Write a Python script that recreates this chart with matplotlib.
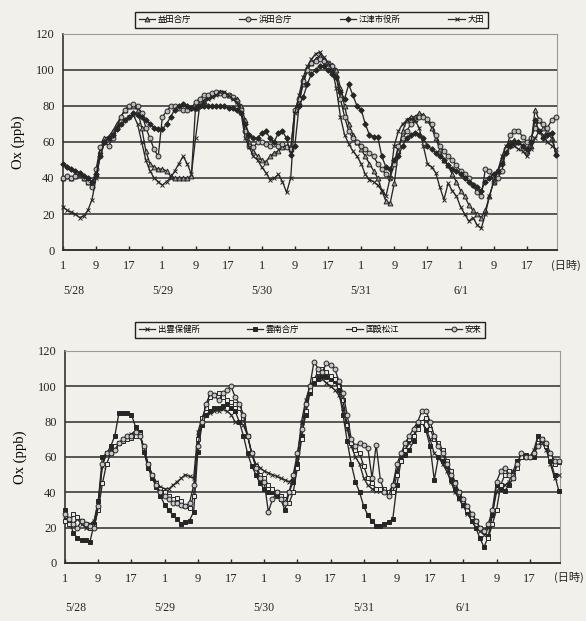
import matplotlib
matplotlib.use("Agg")
import matplotlib.pyplot as plt
from matplotlib.lines import Line2D
import numpy as np

hours = list(range(120))
tick_pos = list(range(0, 120, 8))
tick_labels = ["1", "9", "17"] * 5
date_labels = ["5/28", "5/29", "5/30", "5/31", "6/1"]
date_pos = [2.5, 24, 48, 72, 96]

top_names = ["益田合庁", "浜田合庁", "江津市役所", "大田"]
masuda = [40, 41, 40, 41, 42, 40, 38, 36, 42, 55, 62, 63, 66, 70, 74, 78, 80, 80, 78, 68, 55, 48, 46, 45,
          45, 44, 41, 40, 40, 40, 40, 41, 79, 82, 83, 85, 86, 87, 88, 87, 86, 85, 84, 80, 72, 60, 55, 52,
          50, 49, 52, 54, 55, 57, 58, 56, 78, 82, 92, 100, 104, 106, 108, 106, 104, 103, 100, 90, 80, 70, 64, 60,
          56, 52, 48, 44, 40, 33, 27, 26, 37, 55, 66, 72, 74, 74, 76, 75, 72, 68, 62, 56, 50, 47, 42, 38,
          33, 30, 25, 22, 20, 18, 22, 30, 38, 44, 50, 56, 60, 61, 60, 58, 55, 58, 78, 72, 68, 66, 62, 54]
hamada = [40, 41, 40, 41, 42, 40, 38, 35, 45, 57, 60, 58, 62, 68, 74, 78, 80, 81, 80, 76, 68, 62, 56, 52,
          74, 77, 80, 80, 79, 78, 78, 79, 82, 84, 86, 86, 87, 88, 87, 86, 86, 85, 83, 78, 66, 58, 57, 60,
          60, 59, 58, 59, 58, 59, 57, 56, 78, 84, 94, 100, 104, 105, 106, 105, 104, 102, 96, 84, 74, 66, 62, 60,
          58, 56, 54, 52, 48, 45, 42, 40, 48, 58, 62, 66, 70, 72, 74, 74, 73, 70, 64, 58, 55, 52, 50, 47,
          44, 42, 40, 36, 32, 30, 45, 44, 38, 40, 44, 56, 64, 66, 66, 63, 60, 62, 68, 72, 70, 68, 72, 74]
gotsu = [48, 46, 45, 44, 43, 41, 40, 38, 42, 52, 60, 62, 64, 67, 70, 72, 74, 76, 75, 74, 72, 70, 68, 67,
         67, 70, 74, 78, 80, 81, 80, 79, 79, 80, 80, 80, 80, 80, 80, 80, 79, 79, 78, 76, 70, 64, 62, 62,
         65, 66, 62, 60, 65, 66, 62, 53, 58, 80, 85, 92, 98, 100, 102, 102, 100, 98, 96, 88, 84, 92, 86, 80,
         78, 70, 64, 63, 63, 52, 46, 45, 50, 52, 58, 62, 64, 65, 64, 62, 58, 56, 54, 52, 50, 47, 45, 44,
         42, 40, 38, 36, 35, 33, 38, 40, 42, 44, 48, 54, 58, 60, 60, 58, 56, 60, 72, 66, 62, 64, 65, 53]
oda = [24, 22, 21, 20, 18, 19, 22, 28, 40, 52, 60, 62, 64, 68, 70, 72, 74, 75, 70, 60, 50, 44, 40, 38,
       36, 38, 40, 44, 48, 52, 48, 42, 62, 80, 82, 84, 85, 86, 88, 88, 86, 84, 82, 76, 62, 57, 52, 50,
       46, 43, 39, 40, 42, 38, 32, 40, 76, 86, 96, 102, 106, 109, 110, 107, 104, 100, 90, 74, 64, 59, 55, 52,
       48, 42, 39, 38, 36, 33, 30, 40, 58, 66, 70, 72, 73, 72, 68, 58, 48, 46, 43, 35, 28, 37, 33, 30,
       24, 20, 16, 18, 14, 12, 20, 30, 38, 44, 52, 58, 60, 58, 56, 55, 52, 56, 62, 66, 64, 60, 58, 56]

bot_names = ["出雲保健所", "雲南合庁", "国設松江", "安来"]
izumo = [25, 23, 22, 25, 22, 20, 22, 24, 35, 55, 62, 64, 66, 68, 70, 72, 73, 75, 74, 64, 55, 50, 46, 43,
         42, 42, 44, 46, 48, 50, 49, 48, 74, 82, 84, 85, 86, 86, 87, 86, 84, 80, 80, 78, 72, 62, 56, 54,
         52, 51, 50, 49, 48, 47, 46, 48, 60, 80, 92, 100, 104, 106, 104, 102, 100, 98, 95, 88, 76, 66, 60, 56,
         48, 44, 42, 41, 41, 40, 40, 44, 52, 60, 64, 68, 72, 78, 80, 76, 70, 62, 60, 56, 52, 46, 40, 36,
         32, 28, 24, 20, 18, 16, 20, 28, 40, 44, 44, 46, 52, 58, 60, 60, 60, 64, 72, 68, 64, 56, 48, 50]
unnan = [30, 24, 17, 14, 13, 13, 12, 22, 35, 60, 62, 66, 72, 85, 85, 85, 84, 77, 74, 63, 54, 48, 43, 38,
         33, 30, 27, 25, 22, 23, 24, 29, 63, 78, 84, 86, 88, 88, 89, 90, 88, 86, 80, 72, 62, 55, 50, 45,
         42, 40, 40, 38, 36, 30, 40, 46, 56, 72, 84, 96, 102, 104, 106, 105, 104, 103, 98, 84, 69, 56, 46, 40,
         32, 27, 24, 21, 21, 22, 23, 25, 44, 58, 61, 64, 69, 78, 80, 75, 66, 47, 60, 58, 55, 47, 42, 37,
         33, 29, 24, 20, 14, 9, 15, 27, 44, 42, 41, 44, 48, 58, 60, 61, 60, 60, 72, 70, 66, 58, 50, 41]
matsue = [24, 22, 28, 26, 24, 22, 20, 21, 30, 45, 56, 62, 66, 68, 69, 70, 71, 72, 73, 65, 56, 50, 45, 42,
          40, 38, 36, 37, 35, 32, 31, 38, 70, 82, 88, 94, 95, 96, 94, 92, 91, 90, 88, 82, 72, 62, 55, 50,
          48, 44, 42, 40, 38, 36, 34, 40, 54, 70, 86, 98, 104, 108, 110, 108, 106, 104, 100, 92, 78, 68, 64, 62,
          55, 48, 45, 42, 42, 42, 40, 40, 50, 58, 64, 70, 72, 76, 80, 82, 76, 70, 68, 64, 58, 52, 46, 40,
          35, 30, 26, 24, 20, 18, 14, 22, 30, 44, 50, 52, 50, 54, 60, 60, 60, 62, 68, 70, 66, 60, 56, 57]
yasugi = [28, 25, 22, 20, 24, 22, 21, 20, 32, 56, 62, 62, 64, 68, 70, 72, 72, 74, 72, 66, 56, 50, 44, 40,
          38, 36, 34, 34, 33, 32, 34, 44, 66, 80, 90, 96, 95, 92, 96, 98, 100, 94, 90, 84, 72, 62, 54, 48,
          46, 29, 36, 40, 36, 34, 40, 50, 62, 76, 90, 100, 114, 110, 108, 113, 112, 110, 103, 96, 84, 70, 66, 68,
          67, 65, 48, 67, 47, 40, 38, 44, 56, 62, 68, 72, 76, 80, 86, 86, 80, 72, 66, 62, 56, 50, 45, 40,
          36, 32, 28, 24, 20, 18, 22, 30, 46, 52, 54, 50, 48, 56, 62, 60, 60, 62, 66, 70, 68, 62, 58, 58]

BG = "#f1f0ea"
LC = "#262626"
serif = ["Liberation Serif", "DejaVu Serif"]
cjk = ["Noto Sans CJK JP", "DejaVu Sans"]

top_styles = [dict(marker="^", mfc="#9a9a9a", mec=LC, ms=3.5),
              dict(marker="o", mfc="#bdbdbd", mec=LC, ms=3.5),
              dict(marker="D", mfc=LC, mec=LC, ms=2.8),
              dict(marker="x", mfc=LC, mec=LC, ms=3.5)]
bot_styles = [dict(marker="x", mfc=LC, mec=LC, ms=3.5),
              dict(marker="s", mfc=LC, mec=LC, ms=3.2),
              dict(marker="s", mfc="#e8e8e8", mec=LC, ms=3.2),
              dict(marker="o", mfc="#c8c8c8", mec=LC, ms=3.5)]

fig = plt.figure(figsize=(5.86, 6.21), dpi=100, facecolor=BG)


def panel(rect, series, names, styles, leg_rect, date_y):
    ax = fig.add_axes(rect)
    ax.set_facecolor(BG)
    for yv in range(20, 120, 20):
        ax.axhline(yv, color="#4a4a4a", lw=1.3, zorder=1)
    for data, st in zip(series, styles):
        ax.plot(hours, data, color=LC, lw=0.95, mew=0.7, zorder=3, clip_on=False, **st)
    ax.set_xlim(0, 119.3)
    ax.set_ylim(0, 120)
    ax.set_yticks(range(0, 121, 20))
    ax.set_xticks(tick_pos)
    ax.set_xticklabels(tick_labels)
    ax.tick_params(axis="x", direction="in", length=3, width=1, pad=7, colors=LC)
    ax.tick_params(axis="y", length=0, pad=6, colors=LC)
    for lab in ax.get_xticklabels() + ax.get_yticklabels():
        lab.set_family(serif)
        lab.set_fontsize(9)
    ax.spines["left"].set_color("#333333")
    ax.spines["left"].set_linewidth(1.2)
    ax.spines["bottom"].set_color("#333333")
    ax.spines["bottom"].set_linewidth(1.4)
    ax.spines["top"].set_color("#9a9a9a")
    ax.spines["right"].set_color("#9a9a9a")
    ax.set_ylabel("Ox (ppb)", family=serif, fontsize=10.5, labelpad=8)
    for lab, p in zip(date_labels, date_pos):
        ax.text(p, date_y, lab, ha="center", va="center", family=serif, fontsize=8.5,
                color=LC, transform=ax.get_xaxis_transform())
    ax.text(1.017, -0.07, "(日時)", ha="center", va="center", family=cjk, fontsize=8,
            color=LC, transform=ax.transAxes)
    handles = [Line2D([0], [0], color=LC, lw=0.9, mew=0.7, **st) for st in styles]
    leg = fig.legend(handles, names, loc="lower left", bbox_to_anchor=leg_rect, mode="expand",
                     ncol=4, borderaxespad=0, fancybox=False, edgecolor="#222222", facecolor=BG,
                     framealpha=1, prop={"family": cjk, "size": 6}, handlelength=2.0,
                     handletextpad=0.3, borderpad=0.45)
    leg.get_frame().set_linewidth(1.0)
    return ax


panel([0.1075, 0.5974, 0.843, 0.3479], [masuda, hamada, gotsu, oda], top_names, top_styles,
      (0.2304, 0.9549, 0.6024, 0.0338), -0.19)
panel([0.111, 0.0934, 0.8446, 0.3414], [izumo, unnan, matsue, yasugi], bot_names, bot_styles,
      (0.2304, 0.4557, 0.5973, 0.0338), -0.21)

fig.savefig("out.png", dpi=100, facecolor=BG)
